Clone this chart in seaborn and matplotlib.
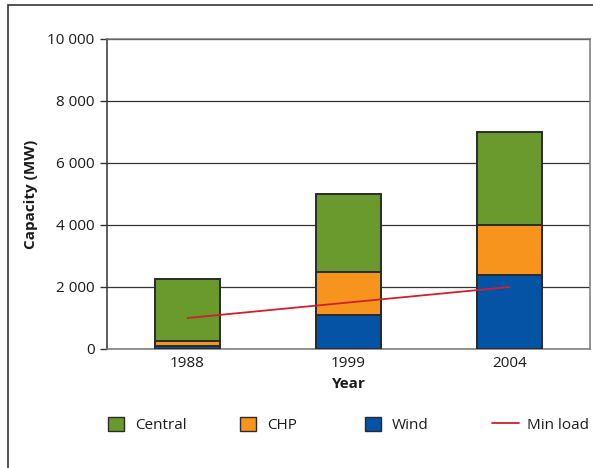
import matplotlib
matplotlib.use("Agg")
import matplotlib.pyplot as plt
import seaborn as sns
import numpy as np
import pandas as pd
from matplotlib.patches import Patch, Rectangle
from matplotlib.lines import Line2D
from matplotlib.ticker import FixedLocator, FuncFormatter

years = ["1988", "1999", "2004"]
wind = [100, 1100, 2400]
chp = [150, 1400, 1600]
central = [2000, 2500, 3000]
min_load = [1000, 1500, 2000]
series_names = ["Central", "CHP", "Wind", "Min load"]
y_ticks = [0, 2000, 4000, 6000, 8000, 10000]

c_central = "#6A9A2E"
c_chp = "#F7941D"
c_wind = "#0453A4"
c_line = "#D0202E"
edge = "#2B2B2B"
fs = 11

sns.set_theme(style="white")
plt.rcParams["font.family"] = ["Open Sans", "DejaVu Sans"]

fig = plt.figure(figsize=(5.93, 4.68), dpi=100)
ax = fig.add_axes([107/593, 1-349/468, (590-107)/593, (349-39)/468])

df = pd.DataFrame({"Year": years, "Wind": wind, "CHP": chp, "Central": central})
df["t_chp"] = df["Wind"] + df["CHP"]
df["t_all"] = df["t_chp"] + df["Central"]

for col, color in [("t_all", c_central), ("t_chp", c_chp), ("Wind", c_wind)]:
    sns.barplot(data=df, x="Year", y=col, color=color, width=0.4,
                edgecolor=edge, linewidth=1.4, ax=ax, saturation=1, zorder=3)

sns.lineplot(x=np.arange(len(years)), y=min_load, color=c_line, linewidth=1.3,
             ax=ax, zorder=4)

ax.set_xlim(-0.5, len(years) - 0.5)
ax.set_ylim(0, 10000)
ax.yaxis.set_major_locator(FixedLocator(y_ticks))
ax.yaxis.set_major_formatter(FuncFormatter(lambda v, p: f"{int(v):,}".replace(",", " ")))
ax.grid(axis="y", color="#333333", linewidth=0.9, zorder=0)
ax.set_axisbelow(True)

ax.set_xticks(range(len(years)))
ax.set_xticklabels(years)
ax.set_xticks([i + 0.5 for i in range(-1, len(years))], minor=True)
ax.tick_params(axis="x", which="major", length=0, labelsize=fs, pad=5, colors="#1a1a1a")
ax.tick_params(axis="x", which="minor", length=5, width=1, color="#555555", direction="out")
ax.tick_params(axis="y", which="major", length=5, width=1, color="#333333",
               direction="out", labelsize=fs, pad=4, left=True, labelcolor="#1a1a1a")

ax.set_xlabel("Year", fontsize=fs, fontweight="bold", labelpad=4, color="#1a1a1a")
ax.set_ylabel("Capacity (MW)", fontsize=fs, fontweight="bold", labelpad=7, color="#1a1a1a")

ax.spines["left"].set_color("#333333")
ax.spines["left"].set_linewidth(1.1)
for s in ["bottom", "right", "top"]:
    ax.spines[s].set_color("#777777")
    ax.spines[s].set_linewidth(1.1)
    ax.spines[s].set_visible(True)

handles = [
    Patch(facecolor=c_central, edgecolor=edge, linewidth=1.0),
    Patch(facecolor=c_chp, edgecolor=edge, linewidth=1.0),
    Patch(facecolor=c_wind, edgecolor=edge, linewidth=1.0),
    Line2D([], [], color=c_line, linewidth=1.3),
]
x_starts = [100, 232, 357, 484]
for h, name, xs in zip(handles, series_names, x_starts):
    is_line = isinstance(h, Line2D)
    leg = fig.legend([h], [name], loc="center left", bbox_to_anchor=(xs/593, 1-425/468),
                     frameon=False, fontsize=fs, handlelength=1.8 if is_line else 1.1,
                     handleheight=1.1, handletextpad=0.5 if is_line else 0.7,
                     borderaxespad=0, borderpad=0.5)
    for t in leg.get_texts():
        t.set_color("#1a1a1a")

fig.add_artist(Rectangle((8/593, -0.1), 1.2, 1 - 5/468 + 0.1, transform=fig.transFigure,
                         fill=False, edgecolor="#333333", linewidth=1.2))

fig.savefig("out.png", dpi=100)
